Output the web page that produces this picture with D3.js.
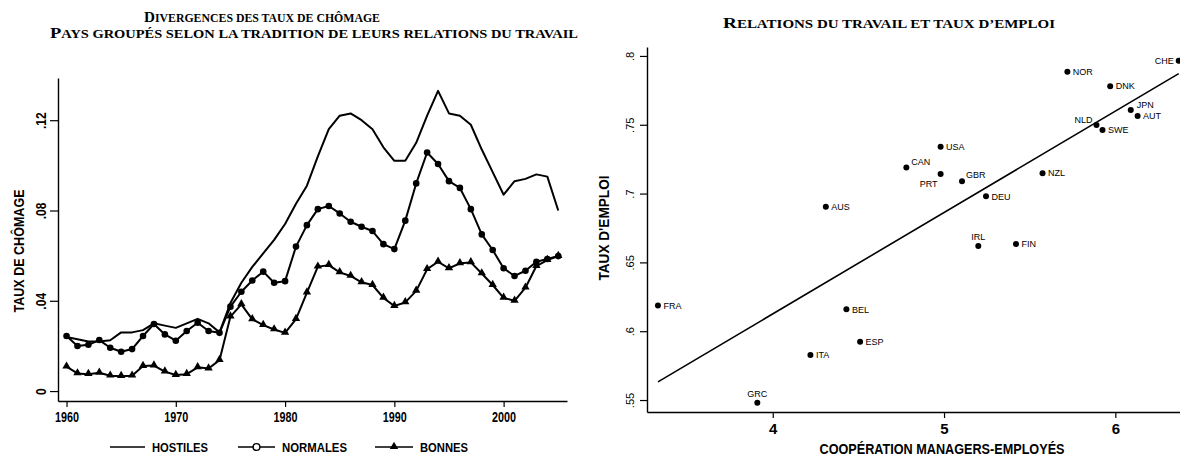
<!DOCTYPE html>
<html><head><meta charset="utf-8">
<script src="https://cdn.jsdelivr.net/npm/d3@7"></script>
<style>
html,body{margin:0;padding:0;background:#fff;}
svg{display:block;}
.serif{font-family:"Liberation Serif","DejaVu Serif",serif;font-weight:bold;}
.cond{font-family:"Liberation Sans Narrow","Liberation Sans",Arial,sans-serif;font-weight:bold;}
.reg{font-family:"Liberation Sans",Arial,sans-serif;}
</style></head><body>
<svg id="c" width="1180" height="458"></svg>
<script>
// ---------- DATA: left chart ----------
const years = [1960,1961,1962,1963,1964,1965,1966,1967,1968,1969,1970,1971,1972,1973,1974,1975,1976,1977,1978,1979,1980,1981,1982,1983,1984,1985,1986,1987,1988,1989,1990,1991,1992,1993,1994,1995,1996,1997,1998,1999,2000,2001,2002,2003,2004,2005];
const hostiles = [.024,.023,.022,.022,.0225,.026,.026,.027,.030,.029,.028,.030,.032,.030,.026,.039,.048,.055,.061,.067,.074,.083,.091,.104,.116,.122,.123,.120,.116,.108,.102,.102,.110,.122,.133,.123,.122,.118,.107,.097,.087,.093,.094,.096,.095,.080];
const normales = [.0244,.020,.0205,.0226,.0192,.0174,.0186,.0244,.0297,.0251,.0223,.0266,.0303,.0266,.0258,.0374,.044,.049,.0529,.048,.0487,.064,.0735,.0806,.082,.0787,.075,.0728,.0709,.0651,.0629,.0755,.092,.1057,.1006,.093,.090,.0806,.0694,.0625,.0544,.051,.0533,.0573,.0585,.0598];
const bonnes = [.0108,.0078,.0075,.0081,.0068,.0066,.0068,.0111,.0113,.0086,.0071,.0075,.0105,.0100,.0137,.033,.0384,.0318,.0292,.0273,.0258,.0319,.0436,.0551,.0558,.0526,.051,.0482,.047,.0413,.0377,.0393,.0444,.054,.0573,.0544,.0566,.057,.0521,.047,.0413,.040,.0458,.0554,.058,.0598];
const seriesNames = ["HOSTILES","NORMALES","BONNES"];
const yearTicks = [1960,1970,1980,1990,2000];
const chomTicks = [0,.04,.08,.12];
const chomTickLabels = ["0",".04",".08",".12"];

// ---------- DATA: right chart ----------
const countries = ["FRA","GRC","ITA","AUS","BEL","ESP","CAN","USA","PRT","GBR","IRL","DEU","FIN","NZL","NOR","NLD","SWE","DNK","JPN","AUT","CHE"];
const cooperation = [3.33,3.91,4.22,4.31,4.43,4.51,4.78,4.98,4.98,5.105,5.20,5.245,5.42,5.575,5.72,5.89,5.925,5.97,6.09,6.13,6.37];
const emploi = [.6186,.548,.5827,.6905,.6159,.5924,.719,.734,.7142,.709,.6619,.698,.6634,.7148,.7886,.7499,.7462,.778,.7608,.7564,.7966];
const coopTicks = [4,5,6];
const emploiTicks = [.55,.6,.65,.7,.75,.8];
const emploiTickLabels = [".55",".6",".65",".7",".75",".8"];

// ---------- TEXT ----------
const titleL1 = "Divergences des taux de chômage";
const titleL2 = "Pays groupés selon la tradition de leurs relations du travail";
const titleR = "Relations du travail et taux d\u2019emploi";
const yTitleL = "TAUX DE CHÔMAGE";
const yTitleR = "TAUX D'EMPLOI";
const xTitleR = "COOPÉRATION MANAGERS-EMPLOYÉS";

const svg = d3.select("#c");

function text(x, y, s, cls, size, len, anchor, rot) {
  const t = svg.append("text").attr("class", cls).attr("font-size", size)
    .attr("text-anchor", anchor || "middle").attr("fill", "#000").text(s);
  if (rot) t.attr("transform", `translate(${x},${y}) rotate(${rot})`);
  else t.attr("x", x).attr("y", y);
  if (len) t.attr("textLength", len).attr("lengthAdjust", "spacingAndGlyphs");
  return t;
}

// small-caps title built from runs of capitals / lower-case letters
function smallCapsTitle(x, y, s, size, len) {
  const t = svg.append("text").attr("class", "serif").attr("x", x).attr("y", y)
    .attr("text-anchor", "middle").attr("fill", "#000");
  const runs = [];
  for (const ch of s) {
    const up = ch !== ch.toLowerCase();
    if (runs.length && runs[runs.length - 1].up === up) runs[runs.length - 1].s += ch;
    else runs.push({ up, s: ch });
  }
  runs.forEach(r => t.append("tspan").attr("font-size", r.up ? size : size * 0.78).text(r.s.toUpperCase()));
  t.attr("textLength", len).attr("lengthAdjust", "spacingAndGlyphs");
  return t;
}

// titles
smallCapsTitle(262, 22, titleL1, 15, 236);
smallCapsTitle(314, 37.5, titleL2, 15, 528);
smallCapsTitle(889, 28, titleR, 15, 332);

// ---------- LEFT CHART ----------
const xL = d3.scaleLinear().domain([1959.22, 2005.8]).range([58, 567]);
const yL = d3.scaleLinear().domain([-0.0044, 0.1387]).range([401, 78]);

function styleAxis(g) {
  g.attr("font-family", null).attr("font-size", null);
  g.select(".domain").attr("stroke", "#000").attr("stroke-width", 1.4);
  g.selectAll(".tick line").attr("stroke", "#000").attr("stroke-width", 1.2);
}

const gxL = svg.append("g").attr("transform", "translate(0,401)")
  .call(d3.axisBottom(xL).tickValues(yearTicks).tickSize(6).tickSizeOuter(0).tickPadding(4).tickFormat(d3.format("d")));
styleAxis(gxL);
gxL.selectAll(".tick text").attr("class", "cond").attr("font-size", 15).attr("fill", "#000")
  .attr("textLength", 24).attr("lengthAdjust", "spacingAndGlyphs");

const gyL = svg.append("g").attr("transform", "translate(58,0)")
  .call(d3.axisLeft(yL).tickValues(chomTicks).tickSize(8).tickSizeOuter(0).tickFormat((d, i) => chomTickLabels[i]));
styleAxis(gyL);
gyL.selectAll(".tick text").attr("class", "cond").attr("font-size", 15).attr("fill", "#000")
  .attr("text-anchor", "middle").attr("transform", "rotate(-90)").attr("x", 0).attr("y", -12).attr("dy", 0)
  .each(function () { const w = this.getComputedTextLength(); d3.select(this).attr("textLength", w * 0.8).attr("lengthAdjust", "spacingAndGlyphs"); });

text(24, 251, yTitleL, "cond", 14.5, 123, "middle", -90);

const lineL = d3.line().x((d, i) => xL(years[i])).y(d => yL(d));
const allSeries = [hostiles, normales, bonnes];
allSeries.forEach(s => {
  svg.append("path").datum(s).attr("d", lineL).attr("fill", "none")
    .attr("stroke", "#000").attr("stroke-width", 2).attr("stroke-linejoin", "round");
});
svg.append("g").selectAll("circle").data(normales).join("circle")
  .attr("cx", (d, i) => xL(years[i])).attr("cy", d => yL(d)).attr("r", 3.3).attr("fill", "#000");
const tri = d3.symbol(d3.symbolTriangle, 30);
svg.append("g").selectAll("path").data(bonnes).join("path")
  .attr("d", tri).attr("transform", (d, i) => `translate(${xL(years[i])},${yL(d) - 0.5})`).attr("fill", "#000");

// legend
const legY = 447;
const legItems = [
  { x0: 110, x1: 145, tx: 152, w: 56 },
  { x0: 238, x1: 275, tx: 282, w: 65 },
  { x0: 375, x1: 413, tx: 420, w: 48 }
];
legItems.forEach((it, i) => {
  svg.append("line").attr("x1", it.x0).attr("x2", it.x1).attr("y1", legY).attr("y2", legY)
    .attr("stroke", "#000").attr("stroke-width", i === 0 ? 1.6 : 1.3);
  const cx = (it.x0 + it.x1) / 2;
  if (i === 1) svg.append("circle").attr("cx", cx).attr("cy", legY).attr("r", 3.4)
    .attr("fill", "#fff").attr("stroke", "#000").attr("stroke-width", 1.4);
  if (i === 2) svg.append("path").attr("d", tri).attr("transform", `translate(${cx},${legY - 0.5})`).attr("fill", "#000");
  text(it.tx, legY + 4.5, seriesNames[i], "cond", 13, it.w, "start");
});

// ---------- RIGHT CHART ----------
const xR = d3.scaleLinear().domain([3.266, 6.45]).range([647, 647 + (6.45 - 3.266) * 171.3]);
const yR = d3.scaleLinear().domain([0.5413, 0.8065]).range([412, 47]);

const gxR = svg.append("g").attr("transform", "translate(0,412)")
  .call(d3.axisBottom(xR).tickValues(coopTicks).tickSize(6).tickSizeOuter(0).tickPadding(5).tickFormat(d3.format("d")));
styleAxis(gxR);
gxR.selectAll(".tick text").attr("class", "cond").attr("font-size", 15).attr("fill", "#000");

const gyR = svg.append("g").attr("transform", "translate(647,0)")
  .call(d3.axisLeft(yR).tickValues(emploiTicks).tickSize(7).tickSizeOuter(0).tickFormat((d, i) => emploiTickLabels[i]));
styleAxis(gyR);
gyR.selectAll(".tick text").attr("class", "reg").attr("font-size", 11).attr("fill", "#000")
  .attr("text-anchor", "middle").attr("transform", "rotate(-90)").attr("x", 0).attr("y", -13).attr("dy", 0);

text(609, 228, yTitleR, "cond", 14.5, 105, "middle", -90);
text(942, 454, xTitleR, "cond", 14.5, 245, "middle");

// regression (OLS from the data)
const mx = d3.mean(cooperation), my = d3.mean(emploi);
const sxy = d3.sum(cooperation, (x, i) => (x - mx) * (emploi[i] - my));
const sxx = d3.sum(cooperation, x => (x - mx) * (x - mx));
const slope = sxy / sxx, icpt = my - slope * mx;
const xmin = d3.min(cooperation), xmax = d3.max(cooperation);
svg.append("line").attr("x1", xR(xmin)).attr("y1", yR(icpt + slope * xmin))
  .attr("x2", xR(xmax)).attr("y2", yR(icpt + slope * xmax))
  .attr("stroke", "#000").attr("stroke-width", 1.6);

svg.append("g").selectAll("circle").data(countries).join("circle")
  .attr("cx", (d, i) => xR(cooperation[i])).attr("cy", (d, i) => yR(emploi[i])).attr("r", 3).attr("fill", "#000");

const labelPlacement = {
  CHE: { dx: -5, dy: 3.2, a: "end" },
  NLD: { dx: -4, dy: -2, a: "end" },
  JPN: { dx: 6, dy: -2, a: "start" },
  CAN: { dx: 5, dy: -2, a: "start" },
  GBR: { dx: 4, dy: -3.5, a: "start" },
  PRT: { dx: -3, dy: 13, a: "end" },
  IRL: { dx: 0, dy: -6, a: "middle" },
  GRC: { dx: 0, dy: -6, a: "middle" }
};
countries.forEach((c, i) => {
  const p = labelPlacement[c] || { dx: 5.5, dy: 3.2, a: "start" };
  text(xR(cooperation[i]) + p.dx, yR(emploi[i]) + p.dy, c, "reg", 9, null, p.a);
});
</script>
</body></html>
